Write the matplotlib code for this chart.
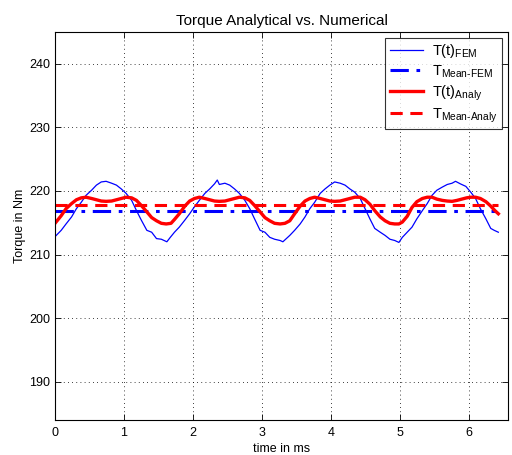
import matplotlib
matplotlib.use("Agg")
import matplotlib.pyplot as plt

plt.rcParams['font.family'] = ['Liberation Sans', 'DejaVu Sans']
plt.rcParams['mathtext.fontset'] = 'custom'
plt.rcParams['mathtext.rm'] = 'Liberation Sans'
plt.rcParams['mathtext.it'] = 'Liberation Sans'

fem_t = [0.00, 0.09, 0.16, 0.24, 0.31, 0.38, 0.45, 0.53, 0.60, 0.67, 0.74, 0.82, 0.89, 0.96,
         1.03, 1.11, 1.18, 1.25, 1.33, 1.40, 1.47, 1.54, 1.62, 1.67, 1.73, 1.80, 1.88, 1.95,
         2.02, 2.09, 2.17, 2.24, 2.31, 2.35, 2.38, 2.46, 2.53, 2.60, 2.67, 2.75, 2.82, 2.89,
         2.97, 3.04, 3.11, 3.18, 3.26, 3.30, 3.40, 3.47, 3.55, 3.62, 3.69, 3.76, 3.84, 3.91,
         3.98, 4.05, 4.13, 4.20, 4.27, 4.34, 4.42, 4.49, 4.56, 4.63, 4.71, 4.78, 4.85, 4.92,
         4.98, 5.03, 5.10, 5.17, 5.24, 5.32, 5.39, 5.46, 5.53, 5.61, 5.68, 5.75, 5.80, 5.87,
         5.95, 6.02, 6.09, 6.16, 6.24, 6.31, 6.36, 6.42]
fem_T = [212.8, 213.8, 214.8, 215.9, 217.2, 218.2, 219.3, 220.1, 220.9, 221.4, 221.5, 221.2, 220.9, 220.3,
         219.6, 218.5, 216.9, 215.4, 213.8, 213.5, 212.5, 212.4, 212.0, 212.7, 213.5, 214.3, 215.4, 216.4,
         217.5, 218.5, 219.6, 220.3, 221.1, 221.7, 221.0, 221.2, 220.9, 220.3, 219.6, 218.5, 217.2, 215.6,
         213.8, 213.5, 212.7, 212.4, 212.2, 212.0, 213.0, 213.8, 214.8, 215.9, 217.2, 218.2, 219.6, 220.3,
         220.9, 221.4, 221.2, 220.9, 220.3, 219.8, 218.8, 217.2, 215.6, 214.1, 213.5, 213.0, 212.4, 212.2,
         211.9, 212.7, 213.5, 214.3, 215.6, 216.9, 218.0, 219.3, 220.1, 220.6, 221.0, 221.2, 221.5, 221.1,
         220.7, 219.8, 218.8, 217.2, 215.6, 214.1, 213.8, 213.5]

ana_t = [0.00, 0.09, 0.16, 0.24, 0.31, 0.38, 0.45, 0.53, 0.60, 0.67, 0.74, 0.82, 0.89, 0.96, 1.03,
         1.11, 1.18, 1.25, 1.33, 1.40, 1.47, 1.54, 1.61, 1.68, 1.73, 1.80, 1.88, 1.95, 2.02, 2.09,
         2.17, 2.24, 2.31, 2.38, 2.46, 2.53, 2.60, 2.67, 2.75, 2.82, 2.89, 2.97, 3.04, 3.11, 3.18,
         3.26, 3.33, 3.40, 3.47, 3.55, 3.62, 3.69, 3.76, 3.84, 3.91, 3.98, 4.05, 4.13, 4.20, 4.27,
         4.34, 4.42, 4.49, 4.56, 4.63, 4.71, 4.78, 4.85, 4.92, 4.98, 5.03, 5.10, 5.17, 5.24, 5.32,
         5.39, 5.46, 5.53, 5.61, 5.68, 5.75, 5.82, 5.89, 5.96, 6.02, 6.09, 6.16, 6.24, 6.31, 6.37, 6.42]
ana_T = [214.9, 216.1, 217.2, 218.0, 218.6, 218.9, 219.0, 218.8, 218.6, 218.4, 218.35, 218.4, 218.6, 218.8, 219.0,
         218.9, 218.5, 217.7, 216.7, 215.8, 215.3, 214.9, 214.8, 214.9, 215.5, 216.4, 217.6, 218.4, 218.8, 219.0,
         218.8, 218.6, 218.4, 218.35, 218.4, 218.6, 218.8, 219.0, 218.9, 218.5, 217.7, 216.7, 215.8, 215.3, 214.9,
         214.8, 214.9, 215.3, 216.4, 217.6, 218.4, 218.8, 219.0, 218.8, 218.6, 218.4, 218.35, 218.4, 218.6, 218.8,
         219.0, 219.0, 218.6, 217.9, 216.9, 215.9, 215.3, 214.9, 214.8, 214.8, 215.1, 216.0, 217.4, 218.3, 218.8,
         219.0, 219.0, 218.7, 218.5, 218.4, 218.35, 218.5, 218.7, 218.9, 219.0, 219.0, 218.8, 218.3, 217.6, 216.9, 216.4]

mean_fem = 216.9
mean_ana = 217.7

labels = [r'T(t)$_{\mathrm{FEM}}$', r'T$_{\mathrm{Mean\text{-}FEM}}$',
          r'T(t)$_{\mathrm{Analy}}$', r'T$_{\mathrm{Mean\text{-}Analy}}$']

fig = plt.figure(figsize=(5.12, 4.55), dpi=100)
ax = fig.add_axes([0.1074, 0.0769, 0.8848, 0.8534])

ax.plot(fem_t, fem_T, color='#0000ff', lw=0.9, label=labels[0])
ax.plot([fem_t[0], fem_t[-1]], [mean_fem, mean_fem], color='#0000ff', lw=2.2,
        linestyle=(0, (6, 2.5, 1.2, 2.5)), label=labels[1])
ax.plot(ana_t, ana_T, color='#ff0000', lw=2.4, label=labels[2])
ax.plot([ana_t[0], ana_t[-1]], [mean_ana, mean_ana], color='#ff0000', lw=2.2,
        linestyle=(0, (4, 2.5)), label=labels[3])

ax.set_xlim(0, 6.56)
ax.set_ylim(184, 245)
ax.set_xticks([0, 1, 2, 3, 4, 5, 6])
ax.set_yticks([190, 200, 210, 220, 230, 240])
ax.grid(True, color='black', linestyle=(0, (1, 4)), linewidth=0.6)
ax.tick_params(direction='in', top=True, right=True, labelsize=9, length=4, width=0.6)
ax.tick_params(axis='x', pad=5)
ax.tick_params(axis='y', pad=3.5)
for s in ax.spines.values():
    s.set_linewidth(0.8)

ax.set_title('Torque Analytical vs. Numerical', fontsize=11, pad=5)
ax.set_xlabel('time in ms', fontsize=9, labelpad=3)
ax.set_ylabel('Torque in Nm', fontsize=9, labelpad=2)

leg = ax.legend(loc='upper right', fontsize=10.5, frameon=True, fancybox=False,
                edgecolor='black', handlelength=2.3, handletextpad=0.6, borderpad=0.3,
                labelspacing=0.25, borderaxespad=0.4)
leg.get_frame().set_linewidth(0.8)

fig.savefig('out.png', dpi=100)
